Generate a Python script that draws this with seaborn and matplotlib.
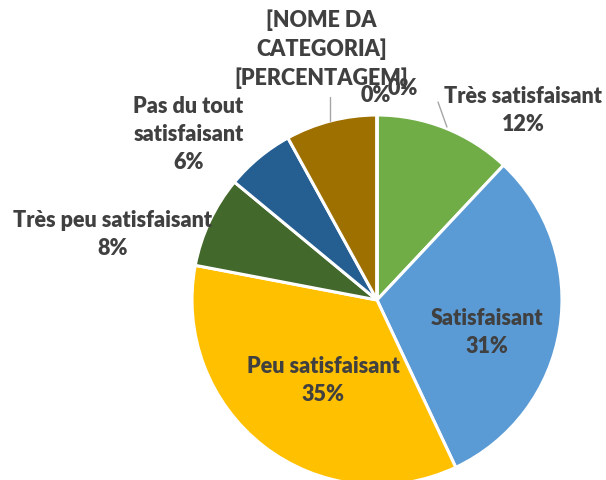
#!/usr/bin/env python
# -*- coding: utf-8 -*-

"""Pie chart of satisfaction answers."""

import matplotlib
matplotlib.use("Agg")
import matplotlib.pyplot as plt
import seaborn as sns

# %% Data.

categories = [
    "Très satisfaisant",
    "Satisfaisant",
    "Peu satisfaisant",
    "Très peu satisfaisant",
    "Pas du tout satisfaisant",
    "[NOME DA CATEGORIA]",
    "",
    "",
]
shares = [12, 31, 35, 8, 6, 8, 0, 0]
label_texts = [
    "Très satisfaisant\n12%",
    "Satisfaisant\n31%",
    "Peu satisfaisant\n35%",
    "Très peu satisfaisant\n8%",
    "Pas du tout\nsatisfaisant\n6%",
    "[NOME DA\nCATEGORIA]\n[PERCENTAGEM]",
    "0%",
    "0%",
]
colors = ["#70AD47", "#5B9BD5", "#FFC000", "#43682B",
          "#255E91", "#9E7000", "#A5A5A5", "#ED7D31"]

# label spots (in pie radius units), like excel's best fit
label_xy = [(0.79, 1.03), (0.595, -0.17), (-0.29, -0.43), (-1.43, 0.36),
            (-1.02, 0.90), (-0.30, 1.36), (-0.005, 1.11), (0.14, 1.15)]

# %% Plot.

sns.set_theme(style="white")
plt.rcParams["font.family"] = ["Lato", "DejaVu Sans"]

fig = plt.figure(figsize=(6.06, 4.81), dpi=100)
ax = fig.add_axes([0, 0, 1, 1])
ax.pie(shares, colors=colors, startangle=90, counterclock=False,
       radius=1.0, wedgeprops=dict(edgecolor="white", linewidth=2.2))

for txt, (x, y) in zip(label_texts, label_xy):
    ax.text(x, y, txt, ha="center", va="center", multialignment="center",
            fontsize=15.5, fontweight="heavy", color="#404040",
            linespacing=1.42)

# leader lines
ax.plot([-0.254, -0.254], [1.097, 0.97], color="#A6A6A6", lw=1)
ax.plot([0.330, 0.378], [1.070, 0.935], color="#A6A6A6", lw=1)

ax.set_xlim(-2.038, 1.238)
ax.set_ylim(-0.973, 1.627)
ax.axis("off")

fig.savefig("out.png", dpi=100)
